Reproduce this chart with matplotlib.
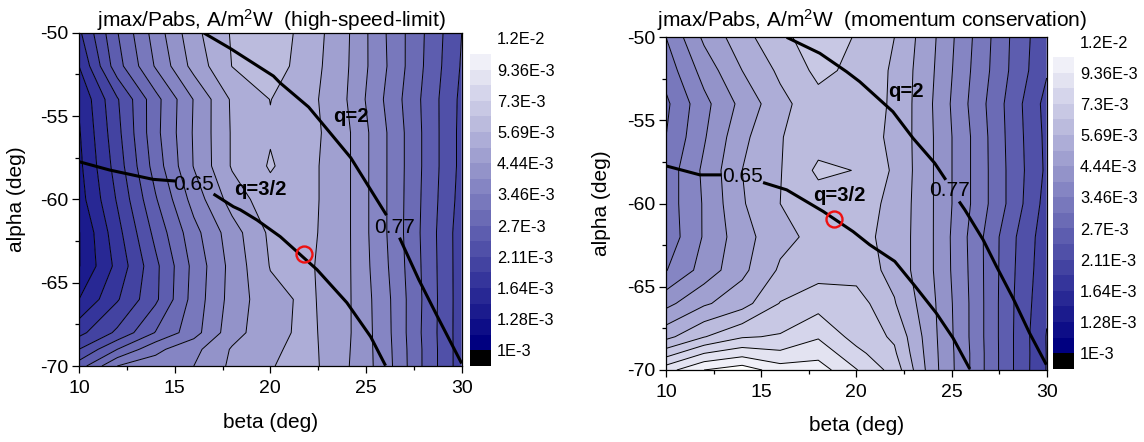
import numpy as np
import matplotlib
matplotlib.use("Agg")
import matplotlib.pyplot as plt
from matplotlib.ticker import MultipleLocator

plt.rcParams['font.family'] = ['Liberation Sans', 'DejaVu Sans']
plt.rcParams['mathtext.default'] = 'regular'
plt.rcParams['mathtext.fontset'] = 'custom'
plt.rcParams['mathtext.rm'] = 'Liberation Sans'
plt.rcParams['axes.unicode_minus'] = False

W, H = 1144, 442

beta = [10, 12, 14, 16, 18, 20, 22, 24, 26, 28, 30]
alpha = [-70, -69, -68, -66, -64, -62, -60, -58, -56, -54, -52, -50]

# values, in colour-band units (band 0 starts at 1E-3, band 20 at 1.2E-2)
high_speed_limit = [
    [8.5, 11.0, 11.45, 12.0, 13.2, 13.95, 14.35, 13.1, 11.5, 8.9, 6.45],
    [7.0, 9.0, 10.75, 11.7, 13.1, 13.85, 14.3, 13.15, 11.45, 8.9, 6.45],
    [5.7, 7.2, 9.05, 10.6, 12.6, 13.7, 14.25, 13.2, 11.4, 8.85, 6.45],
    [4.0, 5.9, 7.8, 10.4, 12.4, 13.7, 14.2, 13.2, 11.35, 8.9, 6.45],
    [2.95, 5.3, 7.75, 10.3, 12.35, 14.05, 14.15, 13.2, 11.2, 8.85, 6.45],
    [2.95, 5.65, 8.3, 10.65, 12.55, 14.2, 14.25, 13.2, 11.1, 8.8, 6.45],
    [3.55, 6.1, 8.9, 11.4, 13.45, 14.6, 14.3, 13.2, 11.1, 8.85, 6.6],
    [3.75, 6.45, 9.45, 12.05, 14.1, 15.1, 14.3, 13.2, 11.1, 8.9, 6.7],
    [3.9, 6.7, 9.7, 12.1, 14.1, 14.9, 14.4, 13.2, 11.1, 8.9, 6.7],
    [4.1, 6.9, 9.65, 12.05, 14.15, 15.02, 14.35, 13.0, 10.9, 8.85, 6.75],
    [5.0, 8.6, 11.1, 13.35, 15.02, 15.5, 14.5, 13.1, 11.1, 9.0, 6.9],
    [5.8, 8.95, 11.45, 13.7, 15.1, 15.6, 14.6, 13.15, 11.05, 9.05, 7.0],
]
momentum_conservation = [
    [18.6, 20.0, 20.55, 19.5, 19.5, 18.05, 16.6, 13.4, 10.95, 8.3, 5.95],
    [16.55, 18.0, 18.6, 18.2, 18.65, 17.3, 16.15, 13.35, 10.95, 8.3, 5.97],
    [14.7, 15.95, 16.9, 17.1, 17.9, 16.6, 15.85, 13.3, 10.9, 8.3, 5.95],
    [12.7, 13.85, 14.6, 16.05, 16.6, 16.5, 15.07, 13.2, 10.9, 8.3, 6.15],
    [10.95, 12.4, 13.75, 15.15, 15.6, 15.55, 14.7, 13.05, 10.85, 8.35, 6.3],
    [10.35, 12.1, 13.6, 14.7, 15.3, 15.3, 14.7, 13.05, 10.8, 8.4, 6.4],
    [10.45, 12.1, 13.9, 15.0, 15.5, 15.45, 14.75, 13.05, 11.0, 8.85, 6.6],
    [10.4, 12.2, 14.0, 14.95, 16.2, 15.97, 14.85, 13.05, 11.0, 8.85, 6.8],
    [10.0, 11.9, 13.75, 14.95, 15.55, 15.5, 14.8, 13.05, 11.0, 8.8, 6.75],
    [9.8, 11.7, 13.3, 14.7, 15.65, 15.6, 14.85, 13.0, 10.85, 8.75, 6.65],
    [10.4, 12.4, 14.0, 15.2, 16.25, 15.75, 14.85, 13.1, 11.0, 9.0, 7.1],
    [11.0, 13.2, 14.6, 15.8, 16.4, 15.95, 15.0, 13.2, 11.1, 9.05, 7.2],
]

cbar_labels = ['1E-3', '1.28E-3', '1.64E-3', '2.11E-3', '2.7E-3', '3.46E-3',
               '4.44E-3', '5.69E-3', '7.3E-3', '9.36E-3', '1.2E-2']

# thick curves (beta, alpha)
L_q2_a = ([16.5, 17.9, 20.16, 20.5, 22.0, 22.9, 24.2, 26.07],
          [-50, -50.94, -52.6, -53.0, -54.46, -55.7, -57.5, -60.95])
L_q2_b = ([26.75, 27.75, 28.74, 30.0], [-62.3, -64.8, -67.05, -69.85])
L_q32_a = ([10, 11.6, 13.87, 15.03], [-57.74, -58.24, -58.8, -58.9])
L_q32_b = ([17.03, 18.07, 18.43, 19.3, 20.52, 22.44, 24.0, 25.24, 26.02],
           [-59.68, -60.44, -60.63, -61.24, -62.24, -64.22, -66.2, -68.24, -69.98])
R_q2_a = ([16.34, 18.08, 19.49, 20.18, 21.92, 22.98, 24.12, 24.7],
          [-50, -50.96, -52.07, -52.67, -54.47, -56.07, -57.57, -58.57])
R_q2_b = ([25.4, 25.7, 26.66, 27.36, 28.23, 29.1, 29.98],
          [-59.87, -60.37, -62.17, -63.77, -65.68, -67.78, -69.68])
R_q32_a = ([10, 11.78, 12.92], [-57.73, -58.27, -58.27])
R_q32_b = ([15.1, 16.34, 18.26, 19.83, 20.7, 22.02, 23.07, 24.2, 25.08, 25.96],
           [-58.73, -59.17, -60.47, -61.68, -62.47, -63.47, -64.94, -66.58, -68.08, -69.94])
L_marker = (21.75, -63.3)
R_marker = (18.83, -60.93)

band_colors = [(0, 0, 0)]
for i in range(1, 20):
    f = (i - 1) / 18
    band_colors.append(((240 * f) / 255, (240 * f) / 255, (128 + 120 * f) / 255))
band_colors.append((1, 1, 1))
levels = np.arange(0, 22)

fig = plt.figure(figsize=(W / 100, H / 100), dpi=100)


def axes_px(x0, y0, x1, y1):
    return fig.add_axes([x0 / W, 1 - y1 / H, (x1 - x0) / W, (y1 - y0) / H])


def panel(box, cbox, data, title, title_xy, curves, marker, notes, ylab_x, xlab_y):
    ax = axes_px(*box)
    Z = np.array(data)
    ax.contourf(beta, alpha, Z, levels=levels, colors=band_colors, antialiased=True)
    ax.contour(beta, alpha, Z, levels=levels, colors='black', linewidths=0.7)
    for cx, cy in curves:
        ax.plot(cx, cy, color='black', lw=2.2, solid_capstyle='butt', zorder=5)
    ax.plot([marker[0]], [marker[1]], 'o', mfc='none', mec='#ee1111', mew=1.7, ms=11.5, zorder=6)
    for txt, x, y, bold in notes:
        ax.text(x, y, txt, ha='center', va='center', fontsize=14.5 if bold else 15, zorder=7,
                fontweight='bold' if bold else 'normal')
    ax.set_xlim(10, 30)
    ax.set_ylim(-70, -50)
    ax.xaxis.set_major_locator(MultipleLocator(5))
    ax.xaxis.set_minor_locator(MultipleLocator(2.5))
    ax.yaxis.set_major_locator(MultipleLocator(5))
    ax.yaxis.set_minor_locator(MultipleLocator(2.5))
    ax.tick_params(which='major', length=5, width=0.9, labelsize=14, top=False, right=False)
    ax.tick_params(which='minor', length=2.6, width=0.9, top=False, right=False)
    ax.tick_params(axis='x', which='major', pad=5)
    ax.tick_params(axis='y', which='major', pad=2.5)
    for s in ax.spines.values():
        s.set_linewidth(0.9)
    ax.set_xlabel('beta (deg)', fontsize=15)
    ax.set_ylabel('alpha (deg)', fontsize=15)
    ax.xaxis.set_label_coords(0.5, xlab_y)
    ax.yaxis.set_label_coords(ylab_x, 0.5)
    fig.text(title_xy[0] / W, 1 - title_xy[1] / H, title, fontsize=15.05, va='baseline', ha='left')

    cax = axes_px(*cbox)
    cax.pcolormesh([0, 1], levels[:21], np.arange(20).reshape(-1, 1),
                   cmap=matplotlib.colors.ListedColormap(band_colors[:20]), vmin=-0.5, vmax=19.5)
    cax.set_xlim(0, 1)
    cax.set_ylim(0, 20)
    cax.axis('off')
    for k, lab in enumerate(cbar_labels):
        cax.annotate(lab, (1, 2 * k), xycoords=('axes fraction', 'data'), xytext=(6, 14),
                     textcoords='offset pixels', va='center', ha='left', fontsize=11.8,
                     annotation_clip=False)


panel((79, 32.7, 461.7, 366), (470, 54, 491, 366), high_speed_limit,
      'jmax/Pabs, A/m$^2$W  (high-speed-limit)', (97, 27),
      [L_q2_a, L_q2_b, L_q32_a, L_q32_b], L_marker,
      [('0.65', 15.97, -59.08, False), ('0.77', 26.47, -61.66, False),
       ('q=2', 24.2, -55.0, True), ('q=3/2', 19.5, -59.4, True)],
      -0.138, -0.14)
panel((666, 37.3, 1046.7, 370), (1053, 57, 1074, 368.7), momentum_conservation,
      'jmax/Pabs, A/m$^2$W  (momentum conservation)', (657, 27),
      [R_q2_a, R_q2_b, R_q32_a, R_q32_b], R_marker,
      [('0.65', 14.03, -58.39, False), ('0.77', 24.9, -59.2, False),
       ('q=2', 22.6, -53.27, True), ('q=3/2', 19.1, -59.5, True)],
      -0.144, -0.138)

fig.savefig('out.png', dpi=100)
